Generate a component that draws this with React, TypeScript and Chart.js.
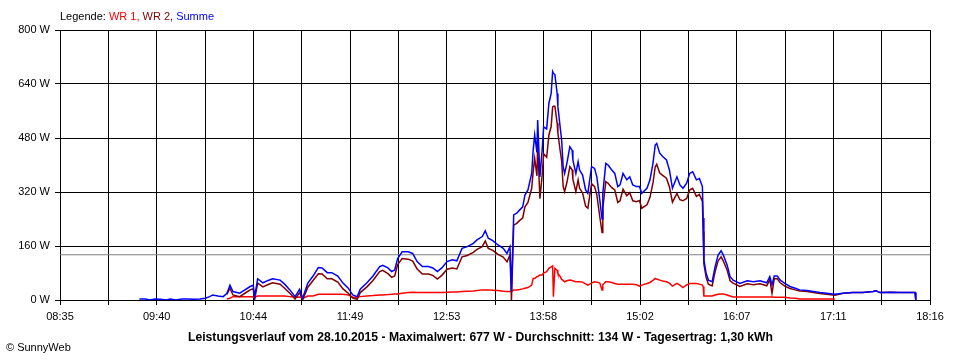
import React, { useEffect, useRef } from "react";
import { Chart, registerables } from "chart.js";

Chart.register(...registerables);

const times = [
  "09:28", "09:32", "09:35", "09:38:30", "09:42", "09:46", "09:48:30", "09:52:30", "09:56:30", "10:00:30",
  "10:04:30", "10:08:30", "10:12", "10:15", "10:17", "10:20:30", "10:24", "10:26:30", "10:28:30", "10:30:30",
  "10:35", "10:38:30", "10:42", "10:44", "10:45", "10:47", "10:50:30", "10:54", "10:57", "11:02",
  "11:05", "11:08:30", "11:12", "11:15", "11:17", "11:20:30", "11:24", "11:27:30", "11:30", "11:33:30",
  "11:36:30", "11:40:30", "11:44", "11:47:30", "11:50:30", "11:53:30", "11:55:30", "12:00", "12:04", "12:08:30",
  "12:10:30", "12:14", "12:16:30", "12:18:30", "12:20:30", "12:23:30", "12:27:30", "12:30:30", "12:33:30", "12:37",
  "12:41", "12:44", "12:47", "12:50", "12:53:30", "12:57", "13:00", "13:03:30", "13:07", "13:11",
  "13:13:30", "13:17", "13:19", "13:21", "13:24", "13:27:30", "13:31", "13:33:30", "13:35:30", "13:36:30",
  "13:38", "13:40", "13:42", "13:44", "13:45:30", "13:47:30", "13:50", "13:51", "13:52", "13:53:30",
  "13:54", "13:55:30", "13:57", "13:58", "14:00", "14:01:30", "14:03", "14:04", "14:04:30", "14:05:30",
  "14:07", "14:07:30", "14:09", "14:10", "14:11", "14:12", "14:13:30", "14:15:30", "14:17", "14:17:30",
  "14:19:30", "14:21", "14:22", "14:24", "14:26", "14:27:30", "14:30", "14:32", "14:33:30", "14:35:30",
  "14:37", "14:37:30", "14:39:30", "14:41", "14:43:30", "14:45:30", "14:47:30", "14:49", "14:51", "14:53:30",
  "14:55:30", "14:57:30", "15:00", "15:02", "15:03:30", "15:07", "15:09", "15:11", "15:12:30", "15:13:30",
  "15:15:30", "15:17:30", "15:20", "15:22", "15:24", "15:27", "15:29", "15:31", "15:33:30", "15:35:30",
  "15:37:30", "15:40", "15:42", "15:44", "15:44:30", "15:45", "15:46:30", "15:48", "15:50:30", "15:52:30",
  "15:54:30", "15:56:30", "15:58", "16:00:30", "16:02:30", "16:04:30", "16:09", "16:14", "16:18", "16:22:30",
  "16:27", "16:29", "16:30:30", "16:32", "16:34", "16:36", "16:39", "16:42:30", "16:46", "16:49",
  "16:54", "16:58", "17:02:30", "17:07", "17:12:30", "17:18", "17:24:30", "17:31", "17:38", "17:40",
  "17:42:30", "17:49:30", "17:56", "18:00:30", "18:06", "18:06:30",
];

const summeW = [
  3, 3, 0, 3, 2, 0, 3, 0, 3, 3,
  2, 3, 5, 10, 15, 12, 10, 20, 44, 25,
  20, 30, 40, 44, 10, 63, 51, 58, 63, 59,
  47, 30, 10, 32, 5, 50, 71, 96, 95, 81,
  81, 71, 50, 35, 15, 10, 32, 51, 71, 99,
  103, 95, 84, 89, 123, 143, 143, 138, 114, 99,
  99, 95, 84, 95, 114, 119, 116, 153, 158, 168,
  178, 188, 205, 183, 176, 163, 153, 138, 158, 25,
  252, 257, 267, 276, 311, 326, 375, 444, 489, 437,
  533, 365, 444, 513, 507, 583, 612, 677, 672, 668,
  612, 573, 513, 474, 395, 375, 405, 454, 444, 415,
  375, 410, 385, 370, 326, 316, 395, 390, 365, 296,
  240, 316, 405, 400, 385, 375, 336, 341, 375, 356,
  365, 341, 336, 336, 316, 331, 356, 405, 459, 464,
  435, 425, 415, 385, 331, 365, 341, 331, 346, 375,
  380, 356, 360, 336, 243, 119, 79, 59, 54, 99,
  133, 146, 133, 104, 69, 59, 49, 57, 54, 57,
  51, 69, 45, 71, 71, 59, 49, 40, 35, 30,
  28, 25, 22, 20, 17, 20, 22, 22, 25, 27,
  22, 23, 22, 22, 22, 0,
];

const wr1W = [
  null, null, null, null, null, null, null, null, null, null,
  null, null, null, null, null, null, null, 3, 5, 10,
  10, 10, 10, 10, 8, 12, 12, 12, 12, 12,
  12, 10, 8, 9, 5, 12, 12, 17, 17, 17,
  17, 17, 17, 15, 8, 8, 10, 12, 13, 15,
  15, 16, 17, 18, 18, 20, 22, 23, 22, 22,
  22, 22, 22, 22, 23, 24, 24, 25, 26, 27,
  28, 30, 30, 30, 29, 28, 26, 25, 25, 25,
  30, 30, 31, 33, 35, 37, 44, 64, 64, 69,
  69, 74, 74, 80, 84, 94, 98, 101, 10, 94,
  88, 79, 70, 61, 58, 54, 57, 59, 58, 57,
  54, 54, 54, 53, 48, 44, 50, 54, 53, 50,
  30, 45, 54, 54, 52, 49, 47, 47, 47, 47,
  47, 47, 45, 41, 44, 49, 52, 58, 64, 62,
  59, 56, 54, 50, 41, 49, 44, 37, 45, 49,
  49, 49, 47, 44, 40, 12, 12, 12, 12, 15,
  17, 18, 18, 15, 12, 9, 9, 9, 9, 9,
  9, 9, 9, 8, 8, 8, 8, 6, 5, 3,
  3, 3, 3, 3, 3, null, null, null, null, null,
  null, null, null, null, null, null,
];

const wr2W = [
  null, null, null, null, null, null, null, null, null, null,
  null, null, null, null, null, null, null, 17, 35, 15,
  10, 20, 30, 33, 2, 50, 39, 46, 51, 47,
  35, 20, 3, 22, 0, 38, 58, 78, 77, 63,
  63, 53, 33, 20, 6, 2, 22, 39, 58, 84,
  88, 78, 67, 71, 105, 123, 121, 115, 92, 77,
  77, 73, 62, 73, 91, 95, 92, 128, 132, 141,
  150, 158, 175, 153, 147, 135, 127, 113, 133, 0,
  222, 227, 236, 243, 276, 289, 331, 380, 420, 368,
  460, 300, 370, 433, 423, 489, 514, 572, 574, 574,
  524, 494, 443, 413, 337, 321, 348, 395, 386, 358,
  321, 356, 331, 317, 278, 272, 345, 336, 312, 246,
  200, 271, 351, 346, 333, 326, 289, 294, 328, 309,
  318, 294, 291, 295, 272, 282, 304, 347, 395, 402,
  376, 369, 361, 335, 290, 316, 297, 294, 301, 326,
  331, 307, 313, 292, 203, 107, 67, 47, 42, 84,
  116, 128, 115, 89, 57, 50, 40, 48, 45, 48,
  42, 60, 20, 63, 63, 51, 41, 34, 30, 27,
  25, 22, 19, 17, 14, 20, 22, 22, 25, 27,
  22, 23, 22, 22, 22, 0,
];

const xTickLabels = ["08:35", "09:40", "10:44", "11:49", "12:53", "13:58", "15:02", "16:07", "17:11", "18:16"];
const yTickValues = [0, 160, 320, 480, 640, 800];
const averageW = 134;
const titleText =
  "Leistungsverlauf vom 28.10.2015 - Maximalwert: 677 W - Durchschnitt: 134 W - Tagesertrag: 1,30 kWh";
const creditText = "\u00A9 SunnyWeb";
const legendLabel = "Legende: ";
const seriesNames = ["WR 1", "WR 2", "Summe"];
const seriesColors = ["#ff0000", "#800000", "#0000ff"];

const FONT = "'Liberation Sans', Arial, sans-serif";

function toClock(s: string): number {
  const p = s.split(":").map(Number);
  return p[0] * 60 + p[1] + (p[2] || 0) / 60;
}
const startMin = toClock(xTickLabels[0]);
const endMin = toClock(xTickLabels[xTickLabels.length - 1]);
const gridCount = (xTickLabels.length - 1) * 2;

function points(values: (number | null)[]) {
  const out: { x: number; y: number }[] = [];
  values.forEach((v, i) => {
    if (v !== null) out.push({ x: toClock(times[i]) - startMin, y: v });
  });
  return out;
}

const textPlugin = {
  id: "textPlugin",
  afterDraw(chart: any) {
    const ctx = chart.ctx;
    ctx.save();
    ctx.textBaseline = "alphabetic";
    // legend
    ctx.font = `11px ${FONT}`;
    let x = 60;
    const ly = 20;
    ctx.textAlign = "left";
    ctx.fillStyle = "#000";
    ctx.fillText(legendLabel, x, ly);
    x += ctx.measureText(legendLabel).width;
    seriesNames.forEach((n, i) => {
      const t = n + (i < seriesNames.length - 1 ? ", " : "");
      ctx.fillStyle = seriesColors[i];
      ctx.fillText(t, x, ly);
      x += ctx.measureText(t).width;
    });
    // title (stretched to the reference's span)
    ctx.font = `bold 12px ${FONT}`;
    ctx.fillStyle = "#000";
    ctx.textAlign = "center";
    const w = ctx.measureText(titleText).width;
    const target = 585;
    ctx.save();
    ctx.translate(480.5, 341);
    ctx.scale(target / w, 1);
    ctx.fillText(titleText, 0, 0);
    ctx.restore();
    // credit
    ctx.font = `11px ${FONT}`;
    ctx.textAlign = "left";
    ctx.fillText(creditText, 6, 351);
    ctx.restore();
  },
};

export default function App() {
  const ref = useRef<HTMLCanvasElement | null>(null);
  useEffect(() => {
    document.body.style.margin = "0";
    const canvas = ref.current;
    if (!canvas) return;
    const chart = new Chart(canvas, {
      type: "line",
      data: {
        datasets: [
          {
            label: "Summe",
            data: points(summeW),
            borderColor: seriesColors[2],
            borderWidth: 1.5,
            pointRadius: 0,
            order: 1,
          },
          {
            label: "WR 2",
            data: points(wr2W),
            borderColor: seriesColors[1],
            borderWidth: 1.5,
            pointRadius: 0,
            order: 2,
          },
          {
            label: "WR 1",
            data: points(wr1W),
            borderColor: seriesColors[0],
            borderWidth: 1.5,
            pointRadius: 0,
            order: 3,
          },
          {
            label: "Durchschnitt",
            data: [
              { x: 0, y: averageW },
              { x: endMin - startMin, y: averageW },
            ],
            borderColor: "#808080",
            borderWidth: 1,
            pointRadius: 0,
            order: 4,
          },
        ],
      },
      options: {
        animation: false,
        responsive: false,
        maintainAspectRatio: false,
        layout: { padding: { left: 0, right: 30, top: 30, bottom: 0 } },
        plugins: {
          legend: { display: false },
          tooltip: { enabled: false },
          title: { display: false },
        },
        elements: { line: { tension: 0 } },
        scales: {
          x: {
            type: "linear",
            min: 0,
            max: endMin - startMin,
            afterBuildTicks: (s: any) => {
              const step = (endMin - startMin) / gridCount;
              s.ticks = Array.from({ length: gridCount + 1 }, (_, i) => ({ value: i * step }));
            },
            afterFit: (s: any) => {
              s.height = 60;
            },
            grid: { color: "#000", lineWidth: 1, tickLength: 5, drawTicks: true },
            border: { display: true, color: "#000", width: 1 },
            ticks: {
              autoSkip: false,
              maxRotation: 0,
              minRotation: 0,
              padding: 5,
              color: "#000",
              font: { family: FONT, size: 11 },
              callback: (_v: any, i: number) => (i % 2 === 0 ? xTickLabels[i / 2] : ""),
            },
          },
          y: {
            type: "linear",
            min: 0,
            max: 800,
            afterBuildTicks: (s: any) => {
              s.ticks = yTickValues.map((v) => ({ value: v }));
            },
            afterFit: (s: any) => {
              s.width = 60;
            },
            grid: { color: "#000", lineWidth: 1, tickLength: 5, drawTicks: true },
            border: { display: true, color: "#000", width: 1 },
            ticks: {
              padding: 5,
              color: "#000",
              font: { family: FONT, size: 11 },
              callback: (v: any) => `${v} W`,
            },
          },
        },
      },
      plugins: [textPlugin],
    });
    return () => chart.destroy();
  }, []);
  return (
    <div style={{ width: 960, height: 360, background: "#fff" }}>
      <canvas ref={ref} width={960} height={360} style={{ display: "block", width: 960, height: 360 }} />
    </div>
  );
}
